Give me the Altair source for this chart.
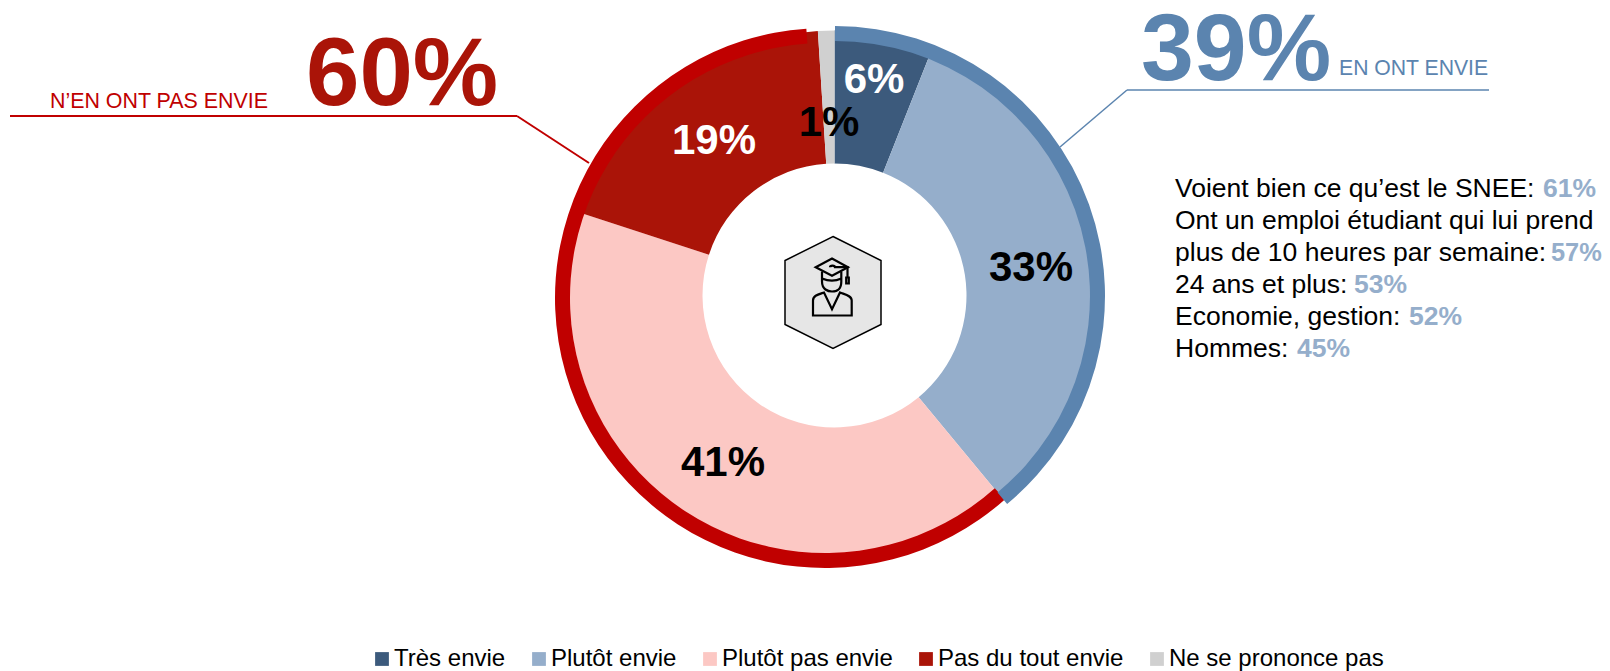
import altair as alt
import pandas as pd

categories = ["Très envie", "Plutôt envie", "Plutôt pas envie", "Pas du tout envie", "Ne se prononce pas"]
shares = [6, 33, 41, 19, 1]
colors = ["#3C5A7C", "#95AECB", "#FCC8C4", "#AA1408", "#D0D0D0"]
slice_labels = ["6%", "33%", "41%", "19%", "1%"]
blue_ring = [0, 39]
red_ring = [38.4, 98.9]
detail_text = ["Voient bien ce qu’est le SNEE: ", "Ont un emploi étudiant qui lui prend",
               "plus de 10 heures par semaine: ", "24 ans et plus: ", "Economie, gestion: ", "Hommes: "]
detail_values = ["61%", "", "57%", "53%", "52%", "45%"]

FONT = "Liberation Sans"
W, H = 1594, 663
dx = lambda v: v - 8
dy = lambda v: v - 8

rows, acc = [], 0
for c, s in zip(categories, shares):
    rows.append({"cat": c, "start": acc, "end": acc + s})
    acc += s
pie_df = pd.DataFrame(rows)
theta_scale = alt.Scale(domain=[0, 100])


def pie():
    return alt.Chart(pie_df).mark_arc(outerRadius=265, innerRadius=132, stroke=None).encode(
        x=alt.value(dx(834.5)), y=alt.value(dy(295.5)),
        theta=alt.Theta("start:Q", scale=theta_scale), theta2="end:Q",
        color=alt.Color("cat:N", scale=alt.Scale(domain=categories, range=colors),
                        legend=alt.Legend(title=None, orient="none", direction="horizontal", columns=5,
                                          legendX=dx(370), legendY=dy(647), symbolType="square", symbolSize=190,
                                          labelFont=FONT, labelFontSize=24, labelColor="#000000",
                                          columnPadding=21, labelOffset=0, symbolStrokeWidth=0, labelLimit=400)),
    )


def ring(start, end, cx, cy, color):
    return alt.Chart(pd.DataFrame({"a": [start], "b": [end]})).mark_arc(outerRadius=270, innerRadius=255, color=color).encode(
        x=alt.value(dx(cx)), y=alt.value(dy(cy)),
        theta=alt.Theta("a:Q", scale=theta_scale), theta2="b:Q")


def text(s, x, y, size, color="#000000", bold=False, align="left"):
    return alt.Chart(pd.DataFrame({"t": [s]})).mark_text(
        font=FONT, fontSize=size, color=color, fontWeight="bold" if bold else "normal",
        align=align, baseline="alphabetic").encode(
        text="t:N", x=alt.value(dx(x)), y=alt.value(dy(y)))


def seg(x1, y1, x2, y2, color, w):
    return alt.Chart(pd.DataFrame({"a": [0]})).mark_rule(color=color, strokeWidth=w).encode(
        x=alt.value(dx(x1)), x2=alt.value(dx(x2)), y=alt.value(dy(y1)), y2=alt.value(dy(y2)))


def glyph(path, cx, cy, fill=None, stroke="#000000", w=2.2):
    kw = dict(shape=path, size=4, opacity=1, stroke=stroke, strokeWidth=w, filled=fill is not None)
    if fill is not None:
        kw["fill"] = fill
    return alt.Chart(pd.DataFrame({"a": [0]})).mark_point(**kw).encode(
        x=alt.value(dx(cx)), y=alt.value(dy(cy)))


hexagon = "M0,-56L48,-32L48,32L0,56L-48,32L-48,-32Z"
cap = "M-17.3,-25.3L-1,-34L15,-25.3L-1,-16.7Z"
cord = "M-3,-25.3A2.5,1.5 0 1 1 2,-25.3L14.5,-25.3L14.5,-15M13.2,-15L15.8,-15L15.8,-9L13.2,-9Z"
head = "M-11,-21L-11,-11C-11,-3 -5,-1 -1,-1C4,-1 8.3,-3 8.3,-11L8.3,-21M-11,-14C-4,-11 2,-11 8.3,-14"
body = "M-20,23L-20,8C-20,3 -15,2 -9,0L-1,16.7L7,0C12,2 18.7,3 18.7,8L18.7,23Z"

layers = [
    pie(),
    ring(red_ring[0], red_ring[1], 825, 298, "#C00000"),
    ring(blue_ring[0], blue_ring[1], 835, 296, "#5B84AF"),
    seg(10, 116, 517, 116, "#C00000", 2),
    seg(517, 116, 589, 163, "#C00000", 2),
    seg(1489, 90, 1127, 90, "#5B84AF", 1.5),
    seg(1127, 90, 1060, 147, "#5B84AF", 1.5),
    text("60%", 306, 105, 96, "#AA1408", True),
    text("N’EN ONT PAS ENVIE", 50, 108, 21.4, "#C00000"),
    text("39%", 1141, 80, 95, "#5B84AF", True),
    text("EN ONT ENVIE", 1339, 75, 21.2, "#5B84AF"),
    text(slice_labels[0], 874, 93, 42, "#FFFFFF", True, "center"),
    text(slice_labels[1], 1031, 281, 42, "#000000", True, "center"),
    text(slice_labels[2], 723, 476, 42, "#000000", True, "center"),
    text(slice_labels[3], 714, 154, 42, "#FFFFFF", True, "center"),
    text(slice_labels[4], 829, 136, 42, "#000000", True, "center"),
    glyph(hexagon, 833, 292.5, fill="#E6E6E6", w=1.5),
    glyph(cap, 833, 292.5),
    glyph(cord, 833, 292.5),
    glyph(head, 833, 292.5),
    glyph(body, 833, 292.5),
]

value_x = [1543, None, 1551, 1354, 1409, 1297]
value_size = [26.5, 26.5, 25.4, 26.5, 26.5, 26.5]
for i, (t, v, vx, vs) in enumerate(zip(detail_text, detail_values, value_x, value_size)):
    base = 197 + i * 32
    layers.append(text(t, 1175, base, 26.5))
    if v:
        layers.append(text(v, vx, base, vs, "#95AECB", True))

chart = alt.layer(*layers).properties(
    width=W, height=H, padding=0, autosize=alt.AutoSizeParams(type="none"),
).configure_view(stroke=None)

chart.save("out.html", embed_options={"renderer": "svg", "actions": False})
